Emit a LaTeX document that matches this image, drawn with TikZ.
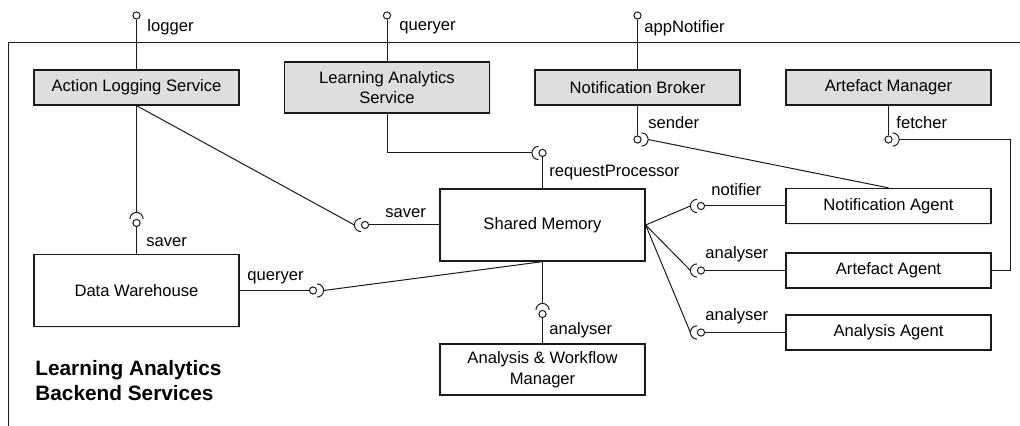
\documentclass[tikz,border=0pt]{standalone}
\usepackage{fontspec}
\setmainfont{Liberation Sans}
\usetikzlibrary{calc,shadows}
\definecolor{boxgray}{HTML}{DEDEDE}
\definecolor{ink}{HTML}{1A1A1A}

\tikzset{
  comp/.style={draw=ink, line width=0.65pt, fill=white, minimum width=102.5pt,
    minimum height=17.5pt, inner sep=0pt, align=center,
    font=\fontsize{8.3}{10.3}\selectfont,
    drop shadow={shadow xshift=0.7pt, shadow yshift=-0.7pt, opacity=0.2}},
  service/.style={comp, fill=boxgray},
  ball/.style={circle, draw=ink, line width=0.5pt, fill=white, minimum size=3.6pt, inner sep=0pt},
  conn/.style={draw=ink, line width=0.5pt},
  port/.style={font=\fontsize{8.3}{10}\selectfont, inner sep=0pt, anchor=west},
}

\begin{document}
\begin{tikzpicture}[x=0.5pt, y=-0.5pt]
\useasboundingbox (0,0) rectangle (1020,426);
% helper: ball at (x,y) named #1, socket arc facing angle #4, arc tip is (#1-s)
\newcommand{\drawsocket}[4]{%
  \node[ball] (#1) at (#2,#3) {};
  \draw[conn] ($(#1.center)+(#4:2pt)+(#4-90:3.3pt)$) arc[start angle=#4-90, end angle=#4+90, radius=3.3pt];
  \coordinate (#1-s) at ($(#1.center)+(#4:5.3pt)$);
}

% package frame (open to the right and bottom)
\draw[conn] (8,426) -- (8,43) -- (1020,43);

% services (top row)
\node[service] (als) at (136.5,87.5) {Action Logging Service};
\node[service, minimum height=25.5pt] (las) at (387,87.5) {Learning Analytics\\Service};
\node[service] (nb) at (637.5,87.5) {Notification Broker};
\node[service] (am) at (888.5,87.5) {Artefact Manager};

% components
\node[comp, minimum height=36pt] (sm) at (542.5,225) {Shared Memory};
\node[comp, minimum height=36.3pt] (dw) at (136.5,290.5) {Data Warehouse};
\node[comp, minimum height=25.5pt] (awm) at (542.5,369.5) {Analysis \& Workflow\\Manager};
\node[comp] (na) at (888.5,206) {Notification Agent};
\node[comp] (aa) at (888.5,270.5) {Artefact Agent};
\node[comp] (an) at (888.5,332.5) {Analysis Agent};

\node[anchor=west, align=left, inner sep=0pt, font=\bfseries\fontsize{10.4}{12.5}\selectfont] (title)
  at (35,380.5) {Learning Analytics\\Backend Services};

% exported interfaces
\node[ball] (logger) at (136.5,15.5) {};
\node[ball] (queryer) at (387,15.5) {};
\node[ball] (appNotifier) at (637.5,15.5) {};
\draw[conn] (logger) -- (als.north);
\draw[conn] (queryer) -- (las.north);
\draw[conn] (appNotifier) -- (nb.north);
\node[port] (lblLogger) at (147,27) {logger};
\node[port] (lblQueryer) at (399,28) {queryer};
\node[port] (lblAppNotifier) at (644,28) {appNotifier};

% ball and socket pairs
\drawsocket{saverDW}{136.5}{223}{90}
\drawsocket{saverSM}{365}{225}{180}
\drawsocket{reqP}{542.5}{153}{180}
\drawsocket{queryDW}{313}{290.5}{0}
\drawsocket{analyAWM}{542.5}{314}{90}
\drawsocket{sendB}{637.5}{139.5}{0}
\drawsocket{fetchB}{888.5}{139.5}{0}
\drawsocket{notif}{701}{206}{180}
\drawsocket{analyAA}{701}{270.5}{180}
\drawsocket{analyAN}{701}{332.5}{180}

\draw[conn] (als.south) -- (saverDW-s);
\draw[conn] (saverDW) -- (dw.north);
\draw[conn] (als.south) -- (saverSM-s);
\draw[conn] (saverSM) -- (sm.west);
\draw[conn] (las.south) |- (reqP-s);
\draw[conn] (reqP) -- (sm.north);
\draw[conn] (dw.east) -- (queryDW);
\draw[conn] (queryDW-s) -- (sm.south);
\draw[conn] (sm.south) -- (analyAWM-s);
\draw[conn] (analyAWM) -- (awm.north);
\draw[conn] (nb.south) -- (sendB);
\draw[conn] (sendB-s) -- (na.north);
\draw[conn] (am.south) -- (fetchB);
\draw[conn] (fetchB-s) -| ($(aa.east)+(9.5pt,0)$) -- (aa.east);
\draw[conn] (sm.east) -- (notif-s);
\draw[conn] (notif) -- (na.west);
\draw[conn] (sm.east) -- (analyAA-s);
\draw[conn] (analyAA) -- (aa.west);
\draw[conn] (sm.east) -- (analyAN-s);
\draw[conn] (analyAN) -- (an.west);

% port labels
\node[port] (lblSaverDW) at (146,242) {saver};
\node[port] (lblSaverSM) at (385,213.5) {saver};
\node[port] (lblReqP) at (549,173) {requestProcessor};
\node[port] (lblQueryDW) at (247,278) {queryer};
\node[port] (lblAnalyAWM) at (549,330) {analyser};
\node[port] (lblSender) at (648,122.5) {sender};
\node[port] (lblFetcher) at (896,122.5) {fetcher};
\node[port] (lblNotif) at (711,190) {notifier};
\node[port] (lblAnalyAA) at (705,254) {analyser};
\node[port] (lblAnalyAN) at (705,316.5) {analyser};
\end{tikzpicture}
\end{document}
